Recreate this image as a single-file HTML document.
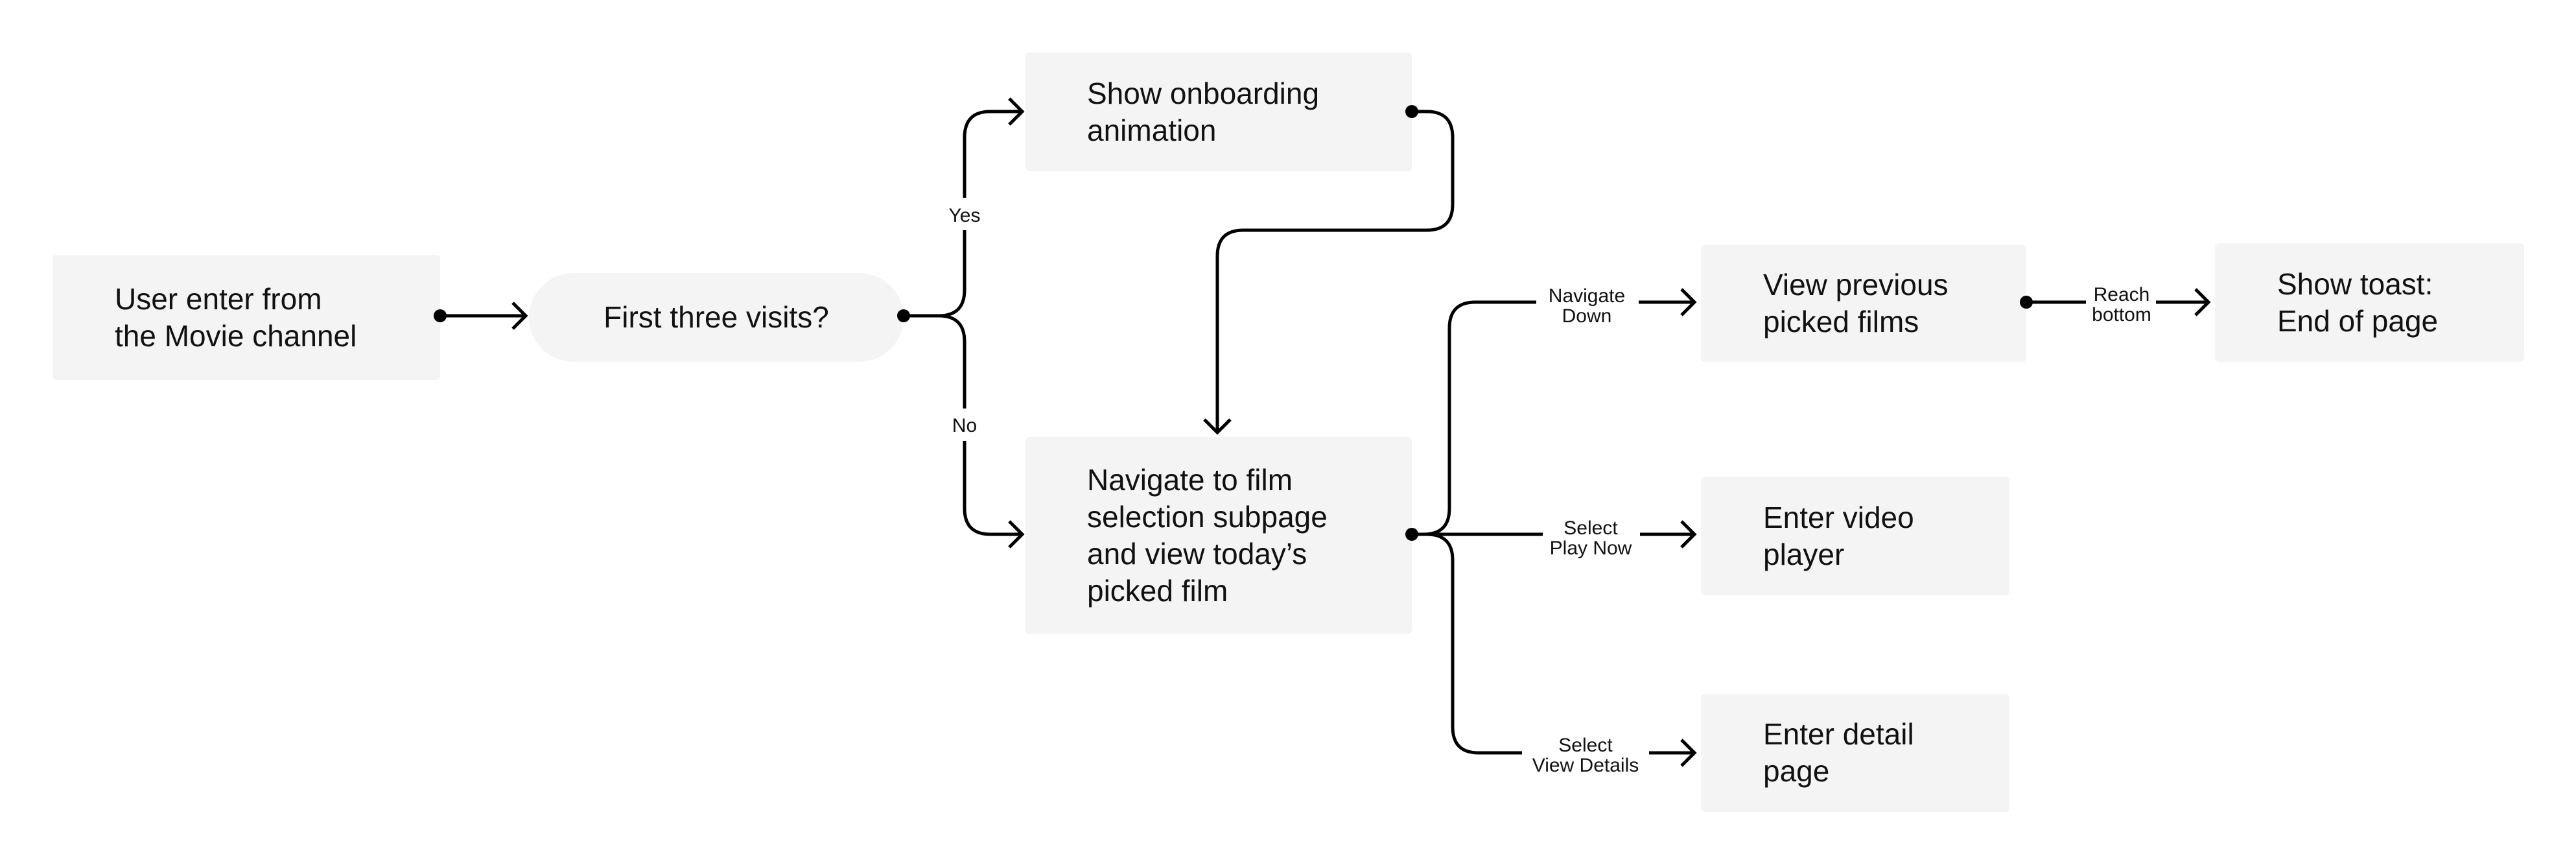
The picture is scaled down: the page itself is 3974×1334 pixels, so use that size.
<!DOCTYPE html>
<html><head><meta charset="utf-8"><style>
html,body{margin:0;padding:0;background:#fff;}
body{width:3974px;height:1334px;position:relative;overflow:hidden;font-family:"Liberation Sans",sans-serif;color:#111;}
.b{position:absolute;background:#f4f4f4;border-radius:6px;display:flex;align-items:center;box-sizing:border-box;font-size:46px;line-height:57px;}
svg{position:absolute;left:0;top:0;}
</style></head><body>
<div class="b" style="left:81px;top:393px;width:598px;height:193px;padding-left:96px;">User enter from<br>the Movie channel</div>
<div class="b" style="left:816px;top:421px;width:578px;height:137px;border-radius:70px;justify-content:center;">First three visits?</div>
<div class="b" style="left:1582px;top:81px;width:596px;height:183px;padding-left:95px;">Show onboarding<br>animation</div>
<div class="b" style="left:1582px;top:674px;width:596px;height:304px;padding-left:95px;">Navigate to film<br>selection subpage<br>and view today’s<br>picked film</div>
<div class="b" style="left:2624px;top:378px;width:502px;height:180px;padding-left:96px;">View previous<br>picked films</div>
<div class="b" style="left:3417px;top:375px;width:477px;height:183px;padding-left:96px;">Show toast:<br>End of page</div>
<div class="b" style="left:2624px;top:735px;width:476px;height:183px;padding-left:96px;">Enter video<br>player</div>
<div class="b" style="left:2624px;top:1070px;width:476px;height:182px;padding-left:96px;">Enter detail<br>page</div>
<svg width="3974" height="1334" viewBox="0 0 3974 1334">
<g fill="none" stroke="#000" stroke-width="5">
<path d="M679 487 H811"/><path d="M791 467 L811 487 L791 507"/>
<path d="M1394 487 H1448 Q1488 487 1488 447 V212 Q1488 172 1528 172 H1577"/><path d="M1557 152 L1577 172 L1557 192"/>
<path d="M1394 487 H1448 Q1488 487 1488 527 V784 Q1488 824 1528 824 H1577"/><path d="M1557 804 L1577 824 L1557 844"/>
<path d="M2178 172 H2201 Q2241 172 2241 212 V315 Q2241 355 2201 355 H1918 Q1878 355 1878 395 V667"/><path d="M1858 647 L1878 667 L1898 647"/>
<path d="M2178 824 H2196 Q2236 824 2236 784 V506 Q2236 466 2276 466 H2614"/><path d="M2594 446 L2614 466 L2594 486"/>
<path d="M2178 824 H2614"/><path d="M2594 804 L2614 824 L2594 844"/>
<path d="M2178 824 H2201 Q2241 824 2241 864 V1121 Q2241 1161 2281 1161 H2614"/><path d="M2594 1141 L2614 1161 L2594 1181"/>
<path d="M3126 466 H3407"/><path d="M3387 446 L3407 466 L3387 486"/>
</g>
<g fill="#000">
<circle cx="679" cy="487" r="10"/><circle cx="1394" cy="487" r="10"/><circle cx="2178" cy="172" r="10"/><circle cx="2178" cy="824" r="10"/><circle cx="3126" cy="466" r="10"/>
</g>
<g fill="#fff">
<rect x="1458" y="305" width="60" height="50"/><rect x="1463" y="630" width="50" height="50"/>
<rect x="2370" y="432" width="158" height="72"/><rect x="2380" y="790" width="150" height="72"/><rect x="2348" y="1125" width="196" height="72"/>
<rect x="3218" y="432" width="108" height="72"/>
</g>
<g font-family="Liberation Sans, sans-serif" font-size="30" text-anchor="middle" fill="#111">
<text x="1488" y="342">Yes</text><text x="1488" y="666">No</text>
<text x="2448" y="466">Navigate</text><text x="2448" y="497">Down</text>
<text x="2454" y="824">Select</text><text x="2454" y="855">Play Now</text>
<text x="2446" y="1159">Select</text><text x="2446" y="1190">View Details</text>
<text x="3273" y="464">Reach</text><text x="3273" y="495">bottom</text>
</g>
</svg>
</body></html>
